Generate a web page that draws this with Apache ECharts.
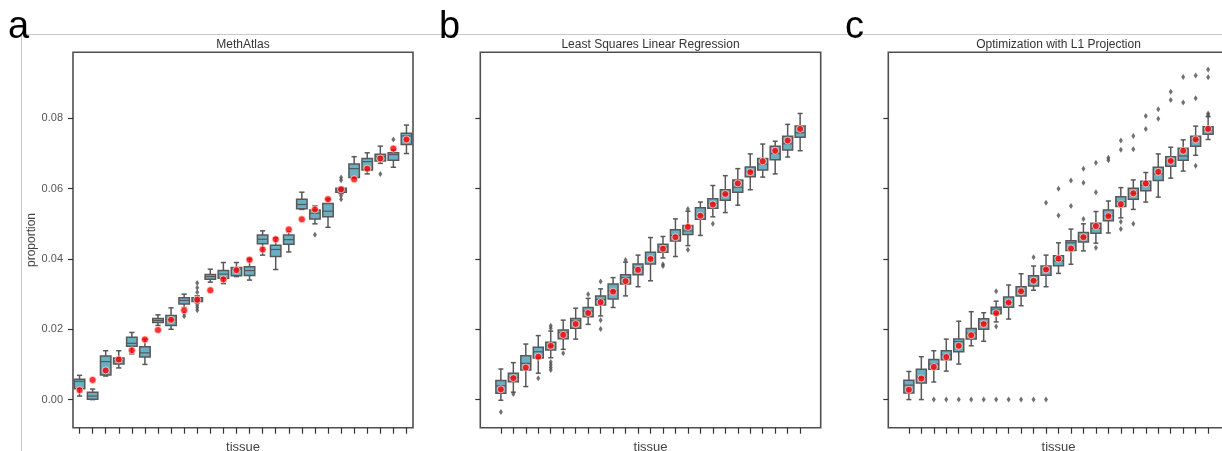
<!DOCTYPE html>
<html><head><meta charset="utf-8">
<script src="https://cdn.jsdelivr.net/npm/echarts@6/dist/echarts.min.js"></script>
<style>html,body{margin:0;padding:0;background:#fff}#c{width:1222px;height:451px}</style>
</head><body><div id="c"></div>
<script>
const panelLetters = ['a', 'b', 'c'];
const panelTitles = ['MethAtlas', 'Least Squares Linear Regression', 'Optimization with L1 Projection'];
const yTicks = [0, 0.02, 0.04, 0.06, 0.08];
const xName = 'tissue';
const yName = 'proportion';

// box stats per tissue: [lower whisker, Q1, median, Q3, upper whisker]
const methAtlasBoxes = [
  [0.0010,0.0031,0.0052,0.0058,0.0069],[0.0000,0.0001,0.0010,0.0021,0.0030],[0.0067,0.0070,0.0108,0.0124,0.0139],
  [0.0090,0.0101,0.0110,0.0118,0.0139],[0.0130,0.0152,0.0160,0.0177,0.0191],[0.0100,0.0121,0.0133,0.0150,0.0172],
  [0.0211,0.0219,0.0225,0.0231,0.0241],[0.0200,0.0211,0.0227,0.0239,0.0261],[0.0262,0.0272,0.0282,0.0290,0.0300],
  [0.0275,0.0279,0.0284,0.0290,0.0295],[0.0334,0.0342,0.0350,0.0356,0.0371],[0.0330,0.0345,0.0357,0.0367,0.0390],
  [0.0350,0.0352,0.0371,0.0376,0.0390],[0.0340,0.0353,0.0367,0.0378,0.0400],[0.0411,0.0443,0.0456,0.0468,0.0480],
  [0.0370,0.0407,0.0427,0.0439,0.0460],[0.0420,0.0442,0.0455,0.0468,0.0477],[0.0541,0.0543,0.0555,0.0570,0.0590],
  [0.0500,0.0514,0.0530,0.0539,0.0551],[0.0490,0.0520,0.0536,0.0558,0.0571],[0.0586,0.0590,0.0596,0.0601,0.0605],
  [0.0630,0.0632,0.0657,0.0670,0.0691],[0.0642,0.0653,0.0677,0.0686,0.0702],[0.0672,0.0679,0.0691,0.0698,0.0721],
  [0.0661,0.0681,0.0697,0.0702,0.0710],[0.0700,0.0726,0.0750,0.0758,0.0781]
];
const methAtlasTruth = [0.0027,0.0056,0.0083,0.0114,0.0140,0.0171,0.0198,0.0227,0.0254,0.0284,0.0311,0.0342,0.0368,
  0.0398,0.0427,0.0456,0.0484,0.0513,0.0541,0.0570,0.0598,0.0627,0.0657,0.0686,0.0714,0.0740];
const methAtlasOutliers = [[8,0.0245],[8,0.0237],[9,0.0332],[9,0.0318],[9,0.0305],[9,0.0269],[9,0.0262],[9,0.0254],
  [18,0.0469],[20,0.0632],[20,0.0624],[20,0.0580],[20,0.0570],[23,0.0642],[24,0.0740]];

const lsqBoxes = [
  [-0.0002,0.0018,0.0039,0.0054,0.0087],[0.0021,0.0051,0.0063,0.0075,0.0105],[0.0037,0.0084,0.0103,0.0125,0.0158],
  [0.0075,0.0118,0.0136,0.0149,0.0182],[0.0119,0.0141,0.0153,0.0163,0.0195],[0.0143,0.0173,0.0191,0.0198,0.0226],
  [0.0172,0.0203,0.0224,0.0231,0.0260],[0.0214,0.0236,0.0252,0.0262,0.0288],[0.0238,0.0269,0.0285,0.0295,0.0315],
  [0.0262,0.0286,0.0309,0.0329,0.0347],[0.0295,0.0329,0.0347,0.0355,0.0391],[0.0321,0.0355,0.0375,0.0386,0.0411],
  [0.0338,0.0386,0.0402,0.0419,0.0461],[0.0403,0.0419,0.0434,0.0442,0.0464],[0.0407,0.0451,0.0467,0.0483,0.0514],
  [0.0438,0.0470,0.0480,0.0495,0.0536],[0.0467,0.0513,0.0525,0.0546,0.0562],[0.0520,0.0544,0.0558,0.0571,0.0609],
  [0.0532,0.0567,0.0585,0.0597,0.0637],[0.0553,0.0590,0.0604,0.0625,0.0657],[0.0597,0.0634,0.0649,0.0662,0.0699],
  [0.0633,0.0653,0.0670,0.0686,0.0727],[0.0642,0.0682,0.0700,0.0721,0.0735],[0.0690,0.0710,0.0728,0.0749,0.0783],
  [0.0708,0.0746,0.0759,0.0778,0.0814]
];
const lsqTruth = [0.0029,0.0061,0.0091,0.0122,0.0153,0.0184,0.0215,0.0246,0.0277,0.0307,0.0337,0.0369,0.0400,
  0.0429,0.0462,0.0491,0.0523,0.0555,0.0585,0.0615,0.0647,0.0678,0.0708,0.0737,0.0770];
const lsqOutliers = [[0,-0.0035],[1,0.0016],[3,0.0061],[4,0.0210],[4,0.0203],[4,0.0107],[4,0.0099],[4,0.0091],[4,0.0084],
  [5,0.0132],[7,0.0300],[8,0.0336],[8,0.0226],[8,0.0201],[10,0.0397],[13,0.0385],[13,0.0380],[15,0.0542],[15,0.0426],[17,0.0500]];

const l1Boxes = [
  [0.0000,0.0019,0.0041,0.0055,0.0080],[0.0000,0.0047,0.0063,0.0086,0.0122],[0.0050,0.0086,0.0101,0.0114,0.0139],
  [0.0081,0.0113,0.0127,0.0139,0.0172],[0.0101,0.0136,0.0165,0.0172,0.0223],[0.0153,0.0172,0.0189,0.0202,0.0250],
  [0.0166,0.0200,0.0218,0.0230,0.0247],[0.0221,0.0244,0.0257,0.0263,0.0280],[0.0229,0.0263,0.0276,0.0292,0.0326],
  [0.0267,0.0295,0.0308,0.0321,0.0358],[0.0311,0.0323,0.0340,0.0352,0.0380],[0.0321,0.0354,0.0371,0.0380,0.0411],
  [0.0359,0.0381,0.0395,0.0409,0.0446],[0.0385,0.0424,0.0446,0.0452,0.0485],[0.0423,0.0448,0.0463,0.0475,0.0500],
  [0.0445,0.0473,0.0487,0.0502,0.0535],[0.0474,0.0509,0.0523,0.0539,0.0565],[0.0517,0.0549,0.0563,0.0577,0.0603],
  [0.0541,0.0570,0.0587,0.0601,0.0625],[0.0562,0.0594,0.0610,0.0621,0.0646],[0.0576,0.0623,0.0642,0.0661,0.0699],
  [0.0630,0.0664,0.0679,0.0691,0.0718],[0.0650,0.0681,0.0693,0.0715,0.0739],[0.0695,0.0721,0.0739,0.0749,0.0778],
  [0.0740,0.0755,0.0767,0.0776,0.0805]
];
const l1Truth = [0.0028,0.0060,0.0093,0.0121,0.0153,0.0183,0.0215,0.0246,0.0276,0.0308,0.0338,0.0370,0.0401,
  0.0430,0.0462,0.0494,0.0522,0.0556,0.0587,0.0615,0.0648,0.0679,0.0708,0.0740,0.0770];
const l1Outliers = [[2,0],[3,0],[4,0],[5,0],[6,0],[7,0],[8,0],[9,0],[10,0],[11,0],
  [7,0.0308],[7,0.0208],[10,0.0405],[11,0.0560],[12,0.0600],[12,0.0524],[13,0.0623],[13,0.0551],
  [14,0.0657],[14,0.0617],[14,0.0514],[15,0.0674],[15,0.0590],[15,0.0432],[16,0.0688],[16,0.0681],
  [17,0.0737],[17,0.0711],[17,0.0506],[17,0.0485],[18,0.0750],[18,0.0712],[18,0.0500],[19,0.0807],[19,0.0770],
  [20,0.0826],[20,0.0799],[21,0.0876],[21,0.0852],[22,0.0918],[22,0.0845],[23,0.0922],[23,0.0857],[23,0.0665],
  [24,0.0814],[24,0.0809],[24,0.0939],[24,0.0917]];

const panels = [
  {boxes: methAtlasBoxes, truth: methAtlasTruth, outliers: methAtlasOutliers, left: 73, width: 340, pad: 0.5},
  {boxes: lsqBoxes, truth: lsqTruth, outliers: lsqOutliers, left: 480.3, width: 340.4, pad: 1.65},
  {boxes: l1Boxes, truth: l1Truth, outliers: l1Outliers, left: 888.3, width: 340.4, pad: 1.65}
];

const FONT = 'Liberation Sans';
const EDGE = '#585858';
const FILL = '#6ab0c2';
const TOP = 52.3, HEIGHT = 375.4;

function renderBox(params, api) {
  const i = api.value(0);
  const pLo = api.coord([i, api.value(1)]);
  const pQ1 = api.coord([i, api.value(2)]);
  const pMed = api.coord([i, api.value(3)]);
  const pQ3 = api.coord([i, api.value(4)]);
  const pHi = api.coord([i, api.value(5)]);
  const bw = api.size([0.8, 0])[0];
  const cw = bw * 0.5;
  const x = pLo[0];
  const ls = {stroke: EDGE, lineWidth: 1.5};
  return {type: 'group', children: [
    {type: 'line', shape: {x1: x, y1: pLo[1], x2: x, y2: pQ1[1]}, style: ls},
    {type: 'line', shape: {x1: x, y1: pQ3[1], x2: x, y2: pHi[1]}, style: ls},
    {type: 'line', shape: {x1: x - cw/2, y1: pLo[1], x2: x + cw/2, y2: pLo[1]}, style: ls},
    {type: 'line', shape: {x1: x - cw/2, y1: pHi[1], x2: x + cw/2, y2: pHi[1]}, style: ls},
    {type: 'rect', shape: {x: x - bw/2, y: pQ3[1], width: bw, height: pQ1[1] - pQ3[1]},
      style: {fill: FILL, stroke: EDGE, lineWidth: 1.5}},
    {type: 'line', shape: {x1: x - bw/2, y1: pMed[1], x2: x + bw/2, y2: pMed[1]}, style: {stroke: EDGE, lineWidth: 1.2}}
  ]};
}

const grid = [], xAxis = [], yAxis = [], series = [];
panels.forEach((p, k) => {
  grid.push({left: p.left, top: TOP, width: p.width, height: HEIGHT, show: true, containLabel: false,
    outerBoundsMode: 'none',
    borderColor: '#4f4f4f', borderWidth: 1.6, backgroundColor: 'transparent'});
  const n = p.boxes.length;
  const idx = p.boxes.map((b, i) => i);
  xAxis.push({gridIndex: k, type: 'value', min: -p.pad, max: n - 1 + p.pad, position: 'bottom',
    axisLine: {show: false, onZero: false}, splitLine: {show: false}, axisLabel: {show: false},
    axisTick: {show: true, customValues: idx, length: 6, lineStyle: {color: '#333', width: 1.2}},
    name: xName, nameLocation: 'middle', nameGap: 13,
    nameTextStyle: {fontFamily: FONT, fontSize: 13, color: '#444'}});
  yAxis.push({gridIndex: k, type: 'value', min: -0.008, max: 0.0988, position: 'left',
    axisLine: {show: false, onZero: false}, splitLine: {show: false},
    axisTick: {show: true, customValues: yTicks, length: 5, lineStyle: {color: '#333', width: 1.2}},
    axisLabel: {show: k === 0, customValues: yTicks, margin: 10, formatter: v => v.toFixed(2),
      fontFamily: FONT, fontSize: 11, color: '#555'},
    name: k === 0 ? yName : '', nameLocation: 'middle', nameGap: 34,
    nameTextStyle: {fontFamily: FONT, fontSize: 12, color: '#444'}});
  series.push({type: 'custom', xAxisIndex: k, yAxisIndex: k, renderItem: renderBox,
    encode: {x: 0, y: [1, 2, 3, 4, 5]}, silent: true,
    data: p.boxes.map((b, i) => [i].concat(b))});
  series.push({type: 'scatter', xAxisIndex: k, yAxisIndex: k, symbol: 'diamond', symbolSize: [4, 6],
    itemStyle: {color: '#4d4d4d'}, silent: true, data: p.outliers});
  series.push({type: 'scatter', xAxisIndex: k, yAxisIndex: k, symbol: 'circle', symbolSize: 7,
    itemStyle: {color: '#ff0000', borderColor: 'rgba(255,220,220,0.9)', borderWidth: 1}, silent: true, z: 5,
    data: p.truth.map((v, i) => [i, v])});
});

const graphic = [
  {type: 'line', shape: {x1: 21.5, y1: 34.5, x2: 1222, y2: 34.5}, style: {stroke: '#c8c8c8', lineWidth: 1}, z: 0},
  {type: 'line', shape: {x1: 21.5, y1: 34.5, x2: 21.5, y2: 451}, style: {stroke: '#c8c8c8', lineWidth: 1}, z: 0}
];
const letterX = [8, 439, 845];
panelLetters.forEach((l, k) => graphic.push({type: 'text', left: letterX[k], top: 9, z: 10,
  style: {text: l, font: '38px "Liberation Sans"', fill: '#000'}}));
panelTitles.forEach((t, k) => {
  const p = panels[k];
  graphic.push({type: 'text', x: p.left + p.width / 2, y: 44.3, z: 10,
    style: {text: t, font: '12px "Liberation Sans"', fill: '#333', align: 'center', verticalAlign: 'middle'}});
});

const chart = echarts.init(document.getElementById('c'), null, {renderer: 'canvas'});
chart.setOption({animation: false, backgroundColor: '#fff', grid, xAxis, yAxis, series, graphic});
</script></body></html>
